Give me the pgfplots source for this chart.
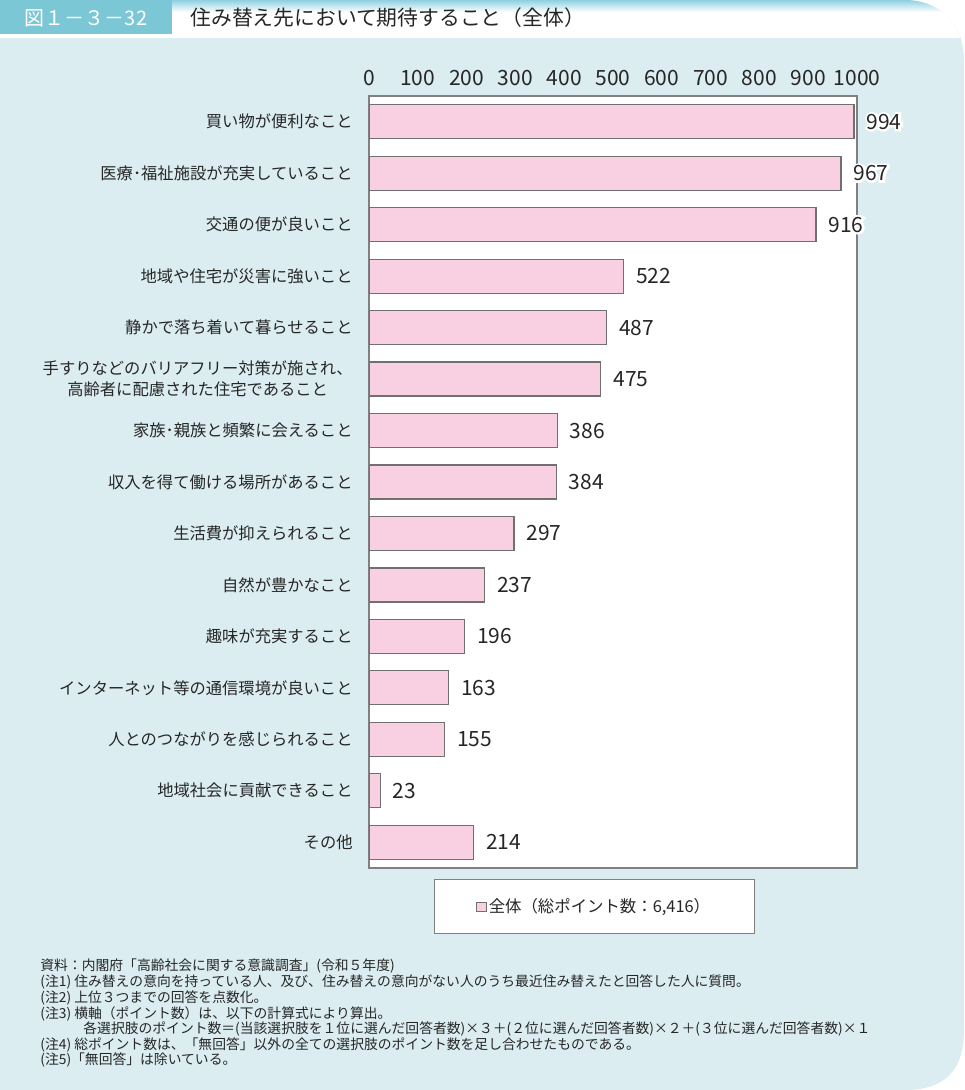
\documentclass[border=0pt]{standalone}
\usepackage{pgfplots}
\pgfplotsset{compat=1.18}
\usepackage{fontspec}
\setmainfont{Noto Sans CJK JP}
\newfontfamily\numfont{Noto Sans CJK JP}
\definecolor{barpink}{HTML}{F8D0E2}
\definecolor{baredge}{HTML}{707070}
\definecolor{axisgray}{HTML}{808080}
\definecolor{panelblue}{HTML}{DBEDF1}
\definecolor{headteal}{HTML}{7CC7D6}
\definecolor{topline}{HTML}{8FD0E0}
\definecolor{txt}{HTML}{262626}
\newcommand{\halo}[1]{\rlap{\special{pdf:code q 2 Tr 1 1 1 RG 1 1 1 rg 2.2 w}#1\special{pdf:code Q}}#1}
\begin{document}
\begin{tikzpicture}
\begin{scope}[x=0.5pt,y=-0.5pt]
\path[use as bounding box] (0,0) rectangle (964,1090);
\fill[panelblue] (0,0) -- (905,0) .. controls (940,0) and (964,25) .. (964,60)
   -- (964,1030) .. controls (964,1070) and (945,1090) .. (905,1090) -- (0,1090) -- cycle;
\begin{scope}
\clip (0,0) -- (905,0) .. controls (940,0) and (964,25) .. (964,60) -- (964,1090) -- (0,1090) -- cycle;
\fill[white] (0,0) rectangle (964,38);
\shade[top color=topline, bottom color=white] (0,0) rectangle (964,12);
\end{scope}
\fill[headteal] (0,0) rectangle (172,34);
\node[white, font=\fontsize{10}{12}\selectfont] at (86,18) {図１－３－32};
\node[anchor=west, text=txt, font=\fontsize{10.4}{12}\selectfont, inner sep=0pt] at (190,18) {住み替え先において期待すること（全体）};
\begin{scope}[every node/.style={anchor=base west, inner sep=0pt, text=txt, font=\fontsize{6.9}{8}\selectfont}]
\node at (40,970) {資料：内閣府「高齢社会に関する意識調査」(令和５年度)};
\node at (40,986) {(注1) 住み替えの意向を持っている人、及び、住み替えの意向がない人のうち最近住み替えたと回答した人に質問。};
\node at (40,1002) {(注2) 上位３つまでの回答を点数化。};
\node at (40,1018) {(注3) 横軸（ポイント数）は、以下の計算式により算出。};
\node at (83,1033) {各選択肢のポイント数＝(当該選択肢を１位に選んだ回答者数)×３＋(２位に選んだ回答者数)×２＋(３位に選んだ回答者数)×１};
\node at (40,1049) {(注4) 総ポイント数は、「無回答」以外の全ての選択肢のポイント数を足し合わせたものである。};
\node at (40,1064) {(注5)「無回答」は除いている。};
\end{scope}
\end{scope}
\begin{axis}[
  at={(184.5pt,-48pt)}, anchor=north west,
  scale only axis, width=244pt, height=386pt,
  xbar, bar width=0.66,
  xmin=0, xmax=1000, ymin=-0.5, ymax=14.5, y dir=reverse,
  xtick={0,100,...,1000}, ytick={0,1,...,14},
  xticklabel pos=right,
  major tick length=0pt,
  axis line style={draw=axisgray, line width=0.6pt},
  axis background/.style={fill=white},
  /pgf/number format/assume math mode=true,
  /pgf/number format/1000 sep={},
  xticklabel style={font=\numfont\fontsize{10.5}{12}\selectfont, text=txt, inner sep=0pt, yshift=5pt},
  yticklabel style={font=\fontsize{8.15}{10.5}\selectfont, text=txt, align=center, inner sep=0pt, xshift=-8pt},
  yticklabels={買い物が便利なこと,医療･福祉施設が充実していること,交通の便が良いこと,地域や住宅が災害に強いこと,静かで落ち着いて暮らせること,{手すりなどのバリアフリー対策が施され、\\高齢者に配慮された住宅であること},家族･親族と頻繁に会えること,収入を得て働ける場所があること,生活費が抑えられること,自然が豊かなこと,趣味が充実すること,インターネット等の通信環境が良いこと,人とのつながりを感じられること,地域社会に貢献できること,その他},
  point meta=x,
  nodes near coords={\halo{\pgfmathprintnumber{\pgfplotspointmeta}}},
  nodes near coords style={font=\numfont\fontsize{10.5}{12}\selectfont, text=txt, anchor=west, inner sep=0pt, xshift=6pt},
  legend style={at={(0.462,-0.0499)}, anchor=center, draw=axisgray, fill=white, inner xsep=21pt, inner ysep=8pt, font=\fontsize{8.2}{10}\selectfont, text=txt, nodes={inner sep=1.2pt}},
  legend image code/.code={\draw[fill=barpink, draw=baredge, line width=0.4pt] (0pt,-2.3pt) rectangle (4.6pt,2.3pt);},
]
\addplot[fill=barpink, draw=baredge, line width=0.6pt] coordinates {
(994,0) (967,1) (916,2) (522,3) (487,4) (475,5) (386,6) (384,7)
(297,8) (237,9) (196,10) (163,11) (155,12) (23,13) (214,14)};
\addlegendentry{全体（総ポイント数：6,416）}
\end{axis}
\end{tikzpicture}
\end{document}
